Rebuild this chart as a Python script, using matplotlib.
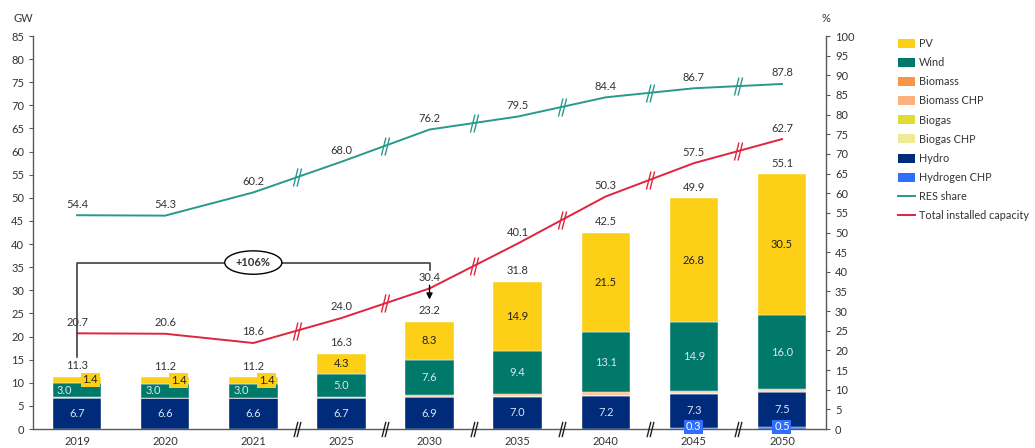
import numpy as np
import matplotlib.pyplot as plt
from matplotlib.path import Path
from matplotlib.patches import Patch
from matplotlib.lines import Line2D

plt.rcParams['font.family'] = ['Lato', 'DejaVu Sans']

years = ['2019', '2020', '2021', '2025', '2030', '2035', '2040', '2045', '2050']

hydrogen_chp = [0, 0, 0, 0, 0, 0, 0, 0.3, 0.5]
hydro = [6.7, 6.6, 6.6, 6.7, 6.9, 7.0, 7.2, 7.3, 7.5]
biogas_chp = [0, 0, 0, 0, 0, 0.1, 0.1, 0.1, 0.1]
biogas = [0.1, 0.1, 0.1, 0.1, 0.1, 0.1, 0.1, 0.1, 0.1]
biomass_chp = [0.1, 0.1, 0.1, 0.1, 0.2, 0.2, 0.3, 0.2, 0.2]
biomass = [0, 0, 0, 0.1, 0.1, 0.1, 0.2, 0.2, 0.2]
wind = [3.0, 3.0, 3.0, 5.0, 7.6, 9.4, 13.1, 14.9, 16.0]
pv = [1.4, 1.4, 1.4, 4.3, 8.3, 14.9, 21.5, 26.8, 30.5]
totals = [11.3, 11.2, 11.2, 16.3, 23.2, 31.8, 42.5, 49.9, 55.1]

total_capacity = [20.7, 20.6, 18.6, 24.0, 30.4, 40.1, 50.3, 57.5, 62.7]
res_share = [54.4, 54.3, 60.2, 68.0, 76.2, 79.5, 84.4, 86.7, 87.8]

c_pv = '#FDD017'
c_wind = '#00796B'
c_biomass = '#F79646'
c_biomass_chp = '#FBB27C'
c_biogas = '#E0DC34'
c_biogas_chp = '#EEEA98'
c_hydro = '#002A7A'
c_h2 = '#2F6FFF'
c_res = '#279A8B'
c_tot = '#E0233E'
c_axis = '#595959'
c_txt = '#333333'

fig = plt.figure(figsize=(10.35, 4.48), dpi=100)
ax = fig.add_axes([0.0319, 0.0424, 0.7662, 0.8772])
ax2 = ax.twinx()

x = np.arange(len(years))
w = 0.55
layers = [(hydrogen_chp, c_h2), (hydro, c_hydro), (biogas_chp, c_biogas_chp),
          (biogas, c_biogas), (biomass_chp, c_biomass_chp), (biomass, c_biomass),
          (wind, c_wind), (pv, c_pv)]
bottom = np.zeros(len(years))
bottoms = {}
for vals, col in layers:
    vals = np.array(vals)
    ax.bar(x, vals, w, bottom=bottom, color=col, edgecolor='white', linewidth=0.3, zorder=2)
    bottoms[col] = bottom.copy()
    bottom = bottom + vals

lab = dict(fontsize=8, ha='center', va='center', zorder=5)
for i in range(len(years)):
    hb = bottoms[c_hydro][i]
    ax.text(x[i], hb + hydro[i] / 2, f'{hydro[i]:.1f}', color='#dce6f2', **lab)
    wb = bottoms[c_wind][i]
    pb = bottoms[c_pv][i]
    if i < 3:
        ax.text(x[i] - 0.14, wb + wind[i] / 2, f'{wind[i]:.1f}', color='#dce6f2', **lab)
        ax.text(x[i] + 0.15, pb + pv[i] / 2, f'{pv[i]:.1f}', color='#222222',
                bbox=dict(boxstyle='square,pad=0.15', fc=c_pv, ec='none'), **lab)
    else:
        ax.text(x[i], wb + wind[i] / 2, f'{wind[i]:.1f}', color='#dce6f2', **lab)
        ax.text(x[i], pb + pv[i] / 2, f'{pv[i]:.1f}', color='#222222', **lab)
    if hydrogen_chp[i] > 0:
        ax.text(x[i], 0.45, f'{hydrogen_chp[i]:.1f}', color='white',
                bbox=dict(boxstyle='square,pad=0.15', fc=c_h2, ec='none'), **lab)
    ax.annotate(f'{totals[i]:.1f}', (x[i], totals[i]), xytext=(0, 8),
                textcoords='offset points', ha='center', va='center', fontsize=8, color=c_txt)

# lines
ax.plot(x, total_capacity, color=c_tot, lw=1.4, zorder=3)
ax2.plot(x, res_share, color=c_res, lw=1.4, zorder=3)
for i in range(len(years)):
    ax.annotate(f'{total_capacity[i]:.1f}', (x[i], total_capacity[i]), xytext=(0, 8),
                textcoords='offset points', ha='center', va='center', fontsize=8, color=c_txt)
    ax2.annotate(f'{res_share[i]:.1f}', (x[i], res_share[i]), xytext=(0, 8),
                 textcoords='offset points', ha='center', va='center', fontsize=8, color=c_txt)

# break marks
brk = Path([(-0.45, -1), (0.05, 1), (-0.05, -1), (0.45, 1)],
           [Path.MOVETO, Path.LINETO, Path.MOVETO, Path.LINETO])
mid = x[2:-1] + 0.5
ax.plot(mid, np.interp(mid, x, total_capacity), ls='none', marker=brk, ms=13,
        mec=c_tot, mew=1.0, zorder=4)
ax2.plot(mid, np.interp(mid, x, res_share), ls='none', marker=brk, ms=13,
         mec=c_res, mew=1.0, zorder=4)
ax.plot(mid, np.zeros(len(mid)), ls='none', marker=brk, ms=11, mec='#222222',
        mew=1.0, zorder=6, clip_on=False)

# +106% bracket
ax.plot([0, 0, 4, 4], [15.6, 36, 36, 34.4], color='#404040', lw=1.2, zorder=4)
ax.annotate('', xy=(4, 27.4), xytext=(4, 31.7),
            arrowprops=dict(arrowstyle='-|>', color='black', lw=1, mutation_scale=9))
ax.text(2, 36, '+106%', ha='center', va='center', fontsize=8, fontweight='bold',
        color=c_txt, zorder=5,
        bbox=dict(boxstyle='ellipse,pad=0.25', fc='white', ec='black', lw=1))

# axes
ax.set_xlim(-0.5, len(years) - 0.5)
ax.set_ylim(0, 85)
ax.set_yticks(range(0, 90, 5))
ax2.set_ylim(0, 100)
ax2.set_yticks(range(0, 105, 5))
ax.set_xticks(x)
ax.set_xticklabels(years)
ax.tick_params(axis='x', length=0, pad=5, labelsize=8, colors=c_txt)
ax.tick_params(axis='y', length=3, labelsize=8, colors=c_txt, color=c_axis)
ax2.tick_params(axis='y', length=3, labelsize=8, colors=c_txt, color=c_axis)
for a in (ax, ax2):
    a.spines['top'].set_visible(False)
    for s in a.spines.values():
        s.set_color(c_axis)
        s.set_linewidth(1.0)
ax.spines['right'].set_visible(False)
ax2.spines['left'].set_visible(False)
ax2.spines['bottom'].set_visible(False)

fig.text(14 / 1035, 1 - 18 / 448, 'GW', fontsize=8, color=c_txt, va='center')
fig.text(822 / 1035, 1 - 18 / 448, '%', fontsize=8, color=c_txt, va='center')

handles = [Patch(fc=c_pv, label='PV'), Patch(fc=c_wind, label='Wind'),
           Patch(fc=c_biomass, label='Biomass'), Patch(fc=c_biomass_chp, label='Biomass CHP'),
           Patch(fc=c_biogas, label='Biogas'), Patch(fc=c_biogas_chp, label='Biogas CHP'),
           Patch(fc=c_hydro, label='Hydro'), Patch(fc=c_h2, label='Hydrogen CHP'),
           Line2D([], [], color=c_res, lw=1.4, label='RES share'),
           Line2D([], [], color=c_tot, lw=1.4, label='Total installed capacity')]
fig.legend(handles=handles, loc='upper left', bbox_to_anchor=(0.8676, 0.915),
           frameon=False, fontsize=7.8, borderpad=0, borderaxespad=0,
           handlelength=1.6, handleheight=0.9, labelspacing=0.75,
           handletextpad=0.35, labelcolor=c_txt)

fig.savefig('out.png', dpi=100)
